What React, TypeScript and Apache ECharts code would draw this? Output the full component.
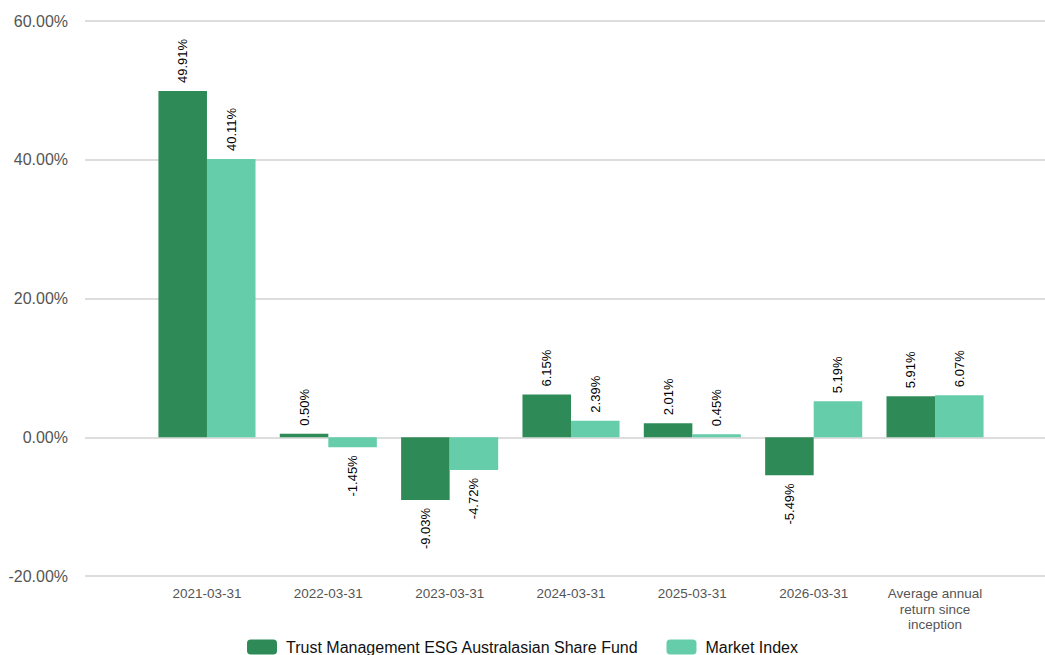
import React, { useEffect, useRef } from "react";
import * as echarts from "echarts";

const categories = [
  "2021-03-31",
  "2022-03-31",
  "2023-03-31",
  "2024-03-31",
  "2025-03-31",
  "2026-03-31",
  "Average annual return since inception",
];
const fundName = "Trust Management ESG Australasian Share Fund";
const indexName = "Market Index";
const fundValues = [49.91, 0.5, -9.03, 6.15, 2.01, -5.49, 5.91];
const indexValues = [40.11, -1.45, -4.72, 2.39, 0.45, 5.19, 6.07];
const yTicks = [-20, 0, 20, 40, 60];

const Y_MIN = -20;
const Y_MAX = 60;

function labelled(values: number[]) {
  return values.map((v) => ({
    value: v,
    label:
      v >= 0
        ? { position: "top", align: "left", verticalAlign: "middle" }
        : { position: "bottom", align: "right", verticalAlign: "middle" },
  }));
}

export default function App() {
  const ref = useRef<HTMLDivElement>(null);
  useEffect(() => {
    if (!ref.current) return;
    const chart = echarts.init(ref.current, undefined, { renderer: "svg" });
    const font = "Liberation Sans, Arial, sans-serif";
    const labelBase = {
      show: true,
      rotate: 90,
      distance: 8,
      fontSize: 13,
      color: "#000",
      fontFamily: font,
      formatter: (p: any) => p.value.toFixed(2) + "%",
    };
    chart.setOption({
      animation: false,
      grid: [
        { left: 85, right: 0, top: 21, height: 555 },
        { left: 146.3, width: 849.4, top: 21, height: 555 },
      ],
      legend: {
        data: [fundName, indexName],
        left: "center",
        top: 639,
        padding: 0,
        itemWidth: 30,
        itemHeight: 15,
        itemGap: 28,
        textStyle: { fontSize: 16, color: "#111", fontFamily: font, padding: [0, 0, 0, 4] },
      },
      xAxis: [
        {
          gridIndex: 0,
          type: "value",
          show: false,
        },
        {
          gridIndex: 1,
          type: "category",
          data: categories,
          axisLine: { show: false },
          axisTick: { show: false },
          axisLabel: {
            fontSize: 13.5,
            color: "#555",
            fontFamily: font,
            margin: 10,
            lineHeight: 15.5,
            interval: 0,
            formatter: (v: string) =>
              v === "Average annual return since inception"
                ? "Average annual\nreturn since\ninception"
                : v,
          },
        },
      ],
      yAxis: [
        {
          gridIndex: 0,
          type: "value",
          min: Y_MIN,
          max: Y_MAX,
          interval: 20,
          axisLine: { show: false },
          axisTick: { show: false },
          splitLine: { lineStyle: { color: "#dddddd", width: 2 } },
          axisLabel: {
            fontSize: 16,
            color: "#555",
            fontFamily: font,
            margin: 17,
            formatter: (v: number) => (yTicks.includes(v) ? v.toFixed(2) + "%" : ""),
          },
        },
        {
          gridIndex: 1,
          type: "value",
          min: Y_MIN,
          max: Y_MAX,
          interval: 20,
          show: false,
          splitLine: { show: false },
        },
      ],
      series: [
        {
          name: fundName,
          type: "bar",
          xAxisIndex: 1,
          yAxisIndex: 1,
          data: labelled(fundValues),
          barGap: "0%",
          barCategoryGap: "20%",
          itemStyle: { color: "#2E8B57" },
          label: labelBase,
        },
        {
          name: indexName,
          type: "bar",
          xAxisIndex: 1,
          yAxisIndex: 1,
          data: labelled(indexValues),
          barGap: "0%",
          barCategoryGap: "20%",
          itemStyle: { color: "#66CDAA" },
          label: labelBase,
        },
      ],
    });
    return () => chart.dispose();
  }, []);
  return (
    <div
      ref={ref}
      style={{ position: "fixed", left: 0, top: 0, width: 1045, height: 655, background: "#fff" }}
    />
  );
}
